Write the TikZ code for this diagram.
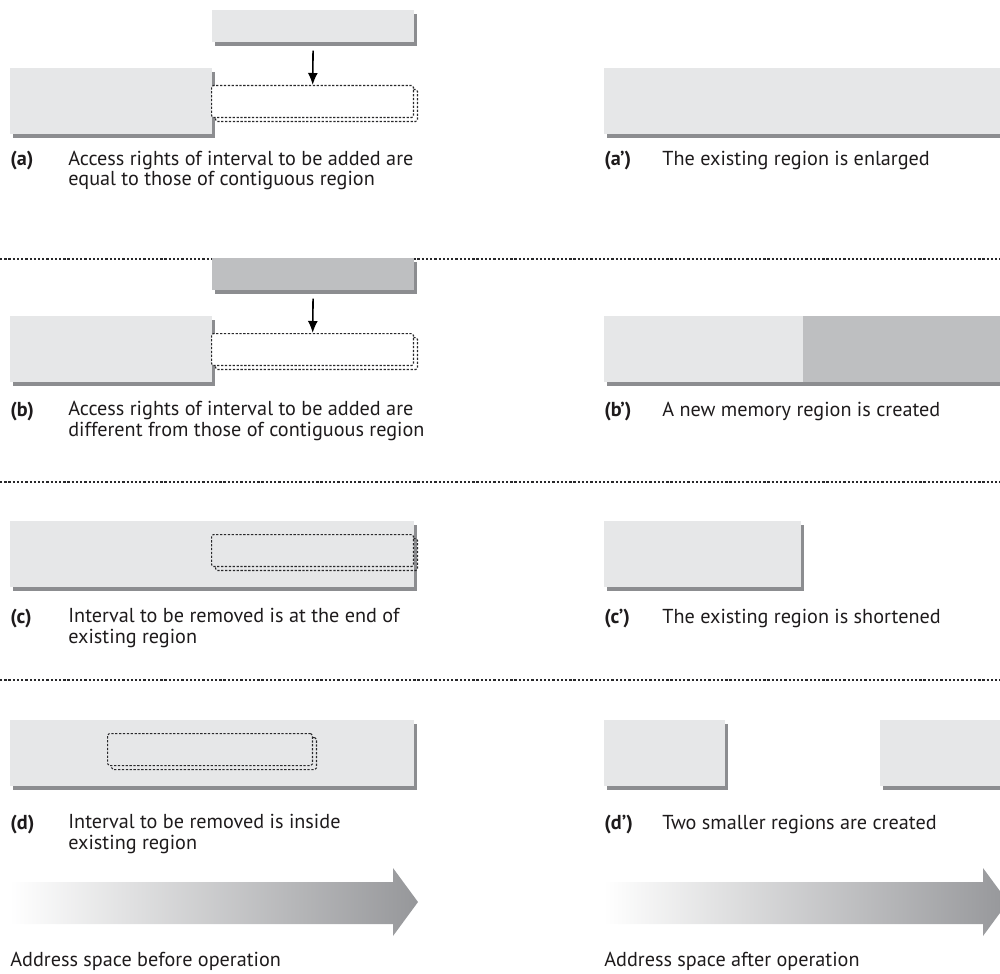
\documentclass[tikz,border=0pt]{standalone}
\usepackage{fontspec}
\setmainfont{PT Sans}
\usepackage{xcolor}
\usetikzlibrary{arrows.meta,shadows}
\definecolor{region}{RGB}{230,231,232}
\definecolor{regiondark}{RGB}{190,191,193}
\definecolor{edge}{RGB}{140,141,144}
\definecolor{dots}{RGB}{40,40,42}
\definecolor{ink}{RGB}{30,27,28}
\definecolor{flow}{RGB}{150,151,154}

\begin{document}
\begin{tikzpicture}[x=0.02cm, y=-0.02cm, font=\fontsize{11.5}{11.4}\selectfont,
  area/.style={fill=region, inner sep=0, anchor=north west, minimum height=1.32cm,
    drop shadow={shadow xshift=0.06cm, shadow yshift=-0.08cm, fill=edge, opacity=1}},
  slab/.style={area, minimum height=0.64cm},
  hole/.style={draw=dots, dash pattern=on 1.3pt off 0.9pt, line width=0.6pt, rounded corners=1pt,
    inner sep=0, anchor=north west, minimum width=4.04cm, minimum height=0.64cm,
    general shadow={shadow xshift=0.08cm, shadow yshift=-0.08cm, draw=dots,
      dash pattern=on 1.3pt off 0.9pt, line width=0.6pt, rounded corners=1pt, fill=none}},
  tag/.style={font=\fontsize{11.5}{11.4}\bfseries, text=ink, anchor=base west, inner sep=0},
  note/.style={text=ink, anchor=base west, align=left, inner sep=0},
  sep/.style={draw=dots, line width=1.5pt, dash pattern=on 1.3pt off 1.1pt},
  drop/.style={-{Latex[length=0.24cm, width=0.2cm]}, line width=0.9pt, shorten <=0.16cm}]
  \useasboundingbox (0,0) rectangle (1000,973);

  % (a) same rights: region grows
  \node[slab, minimum width=4.04cm] (atop) at (212,10) {};
  \node[area, minimum width=4.04cm] (aold) at (10,68) {};
  \node[hole, fill=white] (anew) at (211,85) {};
  \draw[drop] (atop) -- (anew);
  \node[tag] (la) at (10,166) {(a)};
  \node[note] (ta) at (68,186) {Access rights of interval to be added are\\equal to those of contiguous region};
  \node[area, minimum width=8.2cm] (aafter) at (604,68) {};
  \node[tag] (la2) at (604,166) {(a')};
  \node[note] (ta2) at (662,166) {The existing region is enlarged};

  \draw[sep] (0,259) -- (1000,259);

  % (b) other rights: new region
  \node[slab, fill=regiondark, minimum width=4.04cm] (btop) at (212,258) {};
  \node[area, minimum width=4.04cm] (bold) at (10,316) {};
  \node[hole, fill=white] (bnew) at (211,333) {};
  \draw[drop] (btop) -- (bnew);
  \node[tag] (lb) at (10,416) {(b)};
  \node[note] (tb) at (68,436) {Access rights of interval to be added are\\different from those of contiguous region};
  \node[area, minimum width=4.0cm] (bafter) at (604,316) {};
  \node[area, fill=regiondark, minimum width=4.2cm] (bextra) at (803,316) {};
  \node[tag] (lb2) at (604,416) {(b')};
  \node[note] (tb2) at (662,416) {A new memory region is created};

  \draw[sep] (0,482) -- (1000,482);

  % (c) removal at the end
  \node[area, minimum width=8.08cm] (cold) at (10,521) {};
  \node[hole, fill=region] (ccut) at (211,534) {};
  \node[tag] (lc) at (10,623) {(c)};
  \node[note] (tc) at (68,643) {Interval to be removed is at the end of\\existing region};
  \node[area, minimum width=3.94cm] (cafter) at (604,521) {};
  \node[tag] (lc2) at (604,623) {(c')};
  \node[note] (tc2) at (662,623) {The existing region is shortened};

  \draw[sep] (0,680) -- (1000,680);

  % (d) removal inside
  \node[area, minimum width=8.08cm] (dold) at (10,720) {};
  \node[hole, fill=region, minimum width=4.1cm] (dcut) at (107,733) {};
  \node[tag] (ld) at (10,829) {(d)};
  \node[note] (td) at (68,849) {Interval to be removed is inside\\existing region};
  \node[area, minimum width=2.42cm] (dleft) at (604,720) {};
  \node[area, minimum width=2.6cm] (dright) at (880,720) {};
  \node[tag] (ld2) at (604,829) {(d')};
  \node[note] (td2) at (662,829) {Two smaller regions are created};

  % address direction
  \shade[left color=white, right color=flow]
    (10,882) -- (393,882) -- (393,868) -- (418,902) -- (393,936) -- (393,924) -- (10,924) -- cycle;
  \shade[left color=white, right color=flow]
    (604,882) -- (983,882) -- (983,868) -- (1008,902) -- (983,936) -- (983,924) -- (604,924) -- cycle;
  \node[note] (before) at (10,966) {Address space before operation};
  \node[note] (after) at (604,966) {Address space after operation};
\end{tikzpicture}
\end{document}
